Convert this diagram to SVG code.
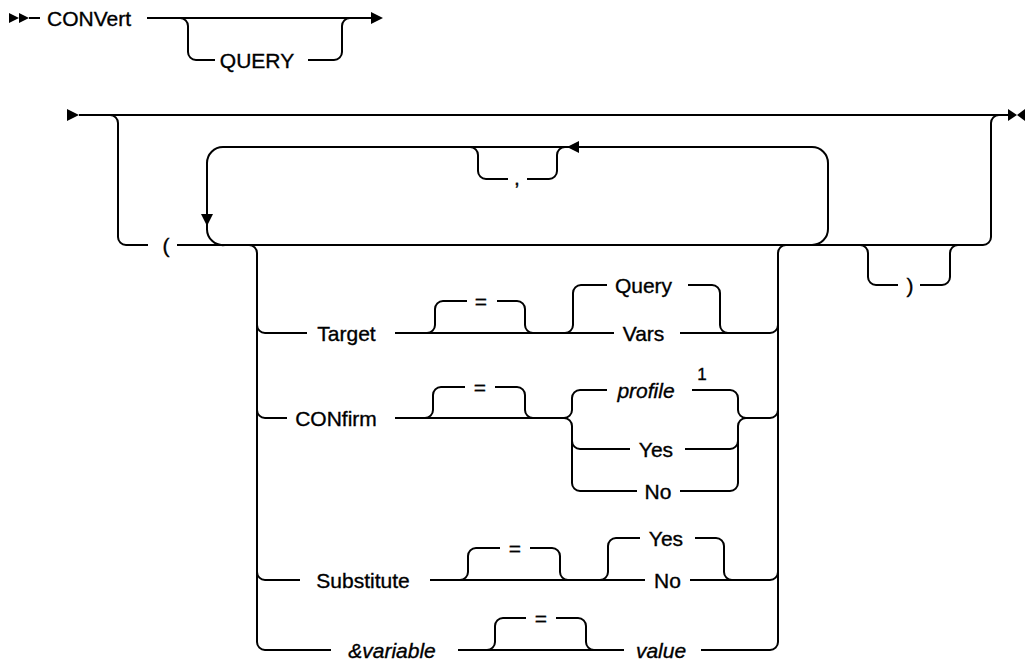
<svg xmlns="http://www.w3.org/2000/svg" width="1025" height="660" viewBox="0 0 1025 660">
<style>
.ln{fill:none;stroke:#000;stroke-width:2}
.ar{fill:#000;stroke:none}
text{font-family:"Liberation Sans",Arial,sans-serif;font-size:21px;fill:#000;stroke:#000;stroke-width:0.35;text-anchor:middle}
.st{text-anchor:start}
.it{font-style:italic}
.sup{font-size:17px}
</style>
<rect width="1025" height="660" fill="#fff"/>
<g id="connectors">
<path class="ln" d="M29,18 H40"/>
<path class="ln" d="M147,18 H371"/>
<path class="ln" d="M180,18 A8,8 0 0 1 188,26 V52 A8,8 0 0 0 196,60 H215 M308,60 H334 A8,8 0 0 0 342,52 V26 A8,8 0 0 1 350,18"/>
<path class="ln" d="M79,115 H1008"/>
<path class="ln" d="M110,115 A8,8 0 0 1 118,123 V237 A8,8 0 0 0 126,245 H148 M177,245 H983 A8,8 0 0 0 991,237 V123 A8,8 0 0 1 999,115"/>
<path class="ln" d="M225,245 A16,16 0 0 1 207,229 V163 A16,16 0 0 1 223,147 H812 A16,16 0 0 1 828,163 V229 A16,16 0 0 1 812,245"/>
<path class="ln" d="M470,147 A8,8 0 0 1 478,155 V171 A8,8 0 0 0 486,179 H508 M527,179 H549 A8,8 0 0 0 557,171 V155 A8,8 0 0 1 565,147"/>
<path class="ln" d="M860,245 A8,8 0 0 1 868,253 V277 A8,8 0 0 0 876,285 H898 M920,285 H942 A8,8 0 0 0 950,277 V253 A8,8 0 0 1 958,245"/>
<path class="ln" d="M249,245 A8,8 0 0 1 257,253 V642 A8,8 0 0 0 265,650"/>
<path class="ln" d="M770,650 A8,8 0 0 0 778,642 V253 A8,8 0 0 1 786,245"/>
<path class="ln" d="M257,325 A8,8 0 0 0 265,333 H307 M395,333 H614 M680,333 H770 A8,8 0 0 0 778,325"/>
<path class="ln" d="M427,333 A8,8 0 0 0 435,325 V309 A8,8 0 0 1 443,301 H467 M497,301 H517 A8,8 0 0 1 525,309 V325 A8,8 0 0 0 533,333"/>
<path class="ln" d="M565,333 A8,8 0 0 0 573,325 V293 A8,8 0 0 1 581,285 H607 M688,285 H712 A8,8 0 0 1 720,293 V325 A8,8 0 0 0 728,333"/>
<path class="ln" d="M257,410 A8,8 0 0 0 265,418 H287 M395,418 H564"/>
<path class="ln" d="M425,418 A8,8 0 0 0 433,410 V395 A8,8 0 0 1 441,387 H465 M495,387 H517 A8,8 0 0 1 525,395 V410 A8,8 0 0 0 533,418"/>
<path class="ln" d="M564,418 A8,8 0 0 0 572,410 V398 A8,8 0 0 1 580,390 H607 M692,390 H730 A8,8 0 0 1 738,398 V410 A8,8 0 0 0 746,418"/>
<path class="ln" d="M564,418 A8,8 0 0 1 572,426 V483 A8,8 0 0 0 580,491 H637 M680,491 H730 A8,8 0 0 0 738,483 V426 A8,8 0 0 1 746,418"/>
<path class="ln" d="M572,441 A8,8 0 0 0 580,449 H630 M685,449 H730 A8,8 0 0 0 738,441"/>
<path class="ln" d="M746,418 H770 A8,8 0 0 0 778,410"/>
<path class="ln" d="M257,572 A8,8 0 0 0 265,580 H300 M430,580 H645 M690,580 H770 A8,8 0 0 0 778,572"/>
<path class="ln" d="M460,580 A8,8 0 0 0 468,572 V556 A8,8 0 0 1 476,548 H500 M530,548 H552 A8,8 0 0 1 560,556 V572 A8,8 0 0 0 568,580"/>
<path class="ln" d="M600,580 A8,8 0 0 0 608,572 V546 A8,8 0 0 1 616,538 H640 M695,538 H716 A8,8 0 0 1 724,546 V572 A8,8 0 0 0 732,580"/>
<path class="ln" d="M265,650 H331 M458,650 H624 M701,650 H770"/>
<path class="ln" d="M487,650 A8,8 0 0 0 495,642 V626 A8,8 0 0 1 503,618 H526 M556,618 H578 A8,8 0 0 1 586,626 V642 A8,8 0 0 0 594,650"/>
<polygon class="ar" points="9,13 19,18 9,23"/>
<polygon class="ar" points="19,13 29,18 19,23"/>
<polygon class="ar" points="371,12 383,18 371,24"/>
<polygon class="ar" points="67,109 79,115 67,121"/>
<polygon class="ar" points="1008,109 1017,115 1008,121"/>
<polygon class="ar" points="1025,109 1017,115 1025,121"/>
<polygon class="ar" points="201,214 213,214 207,226"/>
<polygon class="ar" points="579,141 579,153 567,147"/>
</g>
<g id="convert"><text class="st" x="47" y="25.5">CONVert</text></g>
<g id="query-opt"><text x="257" y="67.5">QUERY</text></g>
<g id="lparen"><text x="166" y="252.5">(</text></g>
<g id="comma"><text x="517" y="185">,</text></g>
<g id="rparen"><text x="910" y="292.5">)</text></g>
<g id="target"><text x="346.5" y="340.5">Target</text></g>
<g id="target-eq"><text x="481" y="308.5">=</text></g>
<g id="target-query"><text x="643.5" y="292.5">Query</text></g>
<g id="target-vars"><text x="643.5" y="340.5">Vars</text></g>
<g id="confirm"><text x="336" y="425.5">CONfirm</text></g>
<g id="confirm-eq"><text x="480" y="394.5">=</text></g>
<g id="confirm-profile"><text class="it" x="646" y="397.5">profile</text><text class="sup" x="702" y="380">1</text></g>
<g id="confirm-yes"><text x="656" y="456.5">Yes</text></g>
<g id="confirm-no"><text x="658" y="498.5">No</text></g>
<g id="substitute"><text x="363" y="587.5">Substitute</text></g>
<g id="substitute-eq"><text x="515" y="555.5">=</text></g>
<g id="substitute-yes"><text x="666" y="545.5">Yes</text></g>
<g id="substitute-no"><text x="667.5" y="587.5">No</text></g>
<g id="variable"><text class="it" x="392" y="657.5">&amp;variable</text></g>
<g id="variable-eq"><text x="541" y="625.5">=</text></g>
<g id="value"><text class="it" x="661" y="657.5">value</text></g>
</svg>
